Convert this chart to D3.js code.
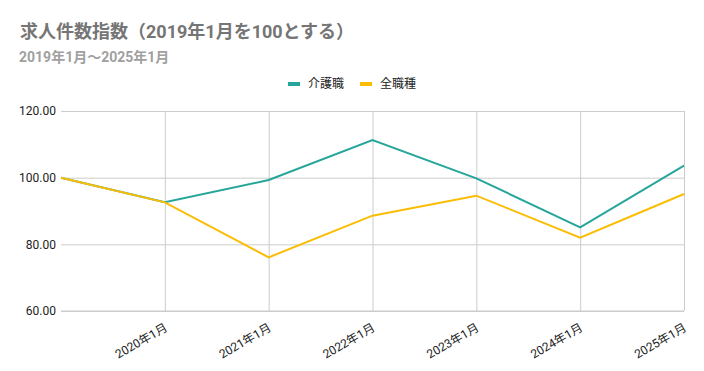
<!DOCTYPE html>
<html>
<head>
<meta charset="utf-8">
<script src="https://cdn.jsdelivr.net/npm/d3@7"></script>
<style>
body { margin: 0; background: #fff; }
text { font-family: Roboto, "Noto Sans CJK JP", sans-serif; }
</style>
</head>
<body>
<div id="chart"></div>
<script>
// data
var categories = ["2019年1月", "2020年1月", "2021年1月", "2022年1月", "2023年1月", "2024年1月", "2025年1月"];
var kaigo = [100, 92.6, 99.3, 111.3, 99.8, 85.1, 103.6];
var zenshoku = [100, 92.6, 76.1, 88.6, 94.6, 82.0, 95.1];
var yTicks = [60, 80, 100, 120];
var seriesNames = ["介護職", "全職種"];
var colors = ["#26a69a", "#fbbc04"];

var W = 704, H = 371;
var margin = {top: 111, right: 20, bottom: 60, left: 61};
var width = W - margin.left - margin.right,
    height = H - margin.top - margin.bottom;

var svg = d3.select("#chart").append("svg")
    .attr("width", W)
    .attr("height", H);

// title
svg.append("text")
    .attr("x", 20).attr("y", 38)
    .style("font-size", "18px")
    .style("font-weight", "bold")
    .style("fill", "#757575")
    .text("求人件数指数（2019年1月を100とする）");
svg.append("text")
    .attr("x", 19).attr("y", 62)
    .style("font-size", "14px")
    .style("font-weight", "bold")
    .style("fill", "#a0a0a0")
    .text("2019年1月～2025年1月");

var x = d3.scalePoint()
    .domain(categories)
    .range([0, width]);
var y = d3.scaleLinear()
    .domain([60, 120])
    .range([height, 0]);

var g = svg.append("g")
    .attr("transform", "translate(" + margin.left + "," + margin.top + ")");

// horizontal grid + y labels
var yAxis = g.append("g")
    .call(d3.axisLeft(y).tickValues(yTicks).tickSize(-width).tickFormat(d3.format(".2f")));
yAxis.select(".domain").remove();
yAxis.selectAll("line").attr("stroke", "#cccccc");
yAxis.selectAll("text")
    .attr("x", -5)
    .style("font-size", "12px")
    .style("fill", "#222");

// vertical grid + rotated x labels
var xAxis = g.append("g")
    .attr("transform", "translate(0," + height + ")")
    .call(d3.axisBottom(x).tickValues(categories.slice(1)).tickSize(-height));
xAxis.select(".domain").remove();
xAxis.selectAll("line").attr("stroke", "#cccccc");
xAxis.selectAll("text")
    .style("font-size", "12px")
    .style("fill", "#222")
    .style("text-anchor", "end")
    .attr("y", 0)
    .attr("dy", 0)
    .attr("transform", "translate(3,19) rotate(-30)");

// bottom baseline
g.append("line")
    .attr("x1", 0).attr("x2", width)
    .attr("y1", height).attr("y2", height)
    .attr("stroke", "#cccccc");

var line = d3.line()
    .x(function(d, i) { return x(categories[i]); })
    .y(function(d) { return y(d); });

[kaigo, zenshoku].forEach(function(s, i) {
    g.append("path")
        .datum(s)
        .attr("fill", "none")
        .attr("stroke", colors[i])
        .attr("stroke-width", 2)
        .attr("d", line);
});

// legend
var legendX = [288, 360];
seriesNames.forEach(function(n, i) {
    var lg = svg.append("g").attr("transform", "translate(" + legendX[i] + ",84)");
    lg.append("rect")
        .attr("x", 0).attr("y", -2)
        .attr("width", 12).attr("height", 4)
        .attr("fill", colors[i]);
    lg.append("text")
        .attr("x", 20).attr("y", 4)
        .style("font-size", "12px")
        .style("fill", "#222")
        .text(n);
});
</script>
</body>
</html>
